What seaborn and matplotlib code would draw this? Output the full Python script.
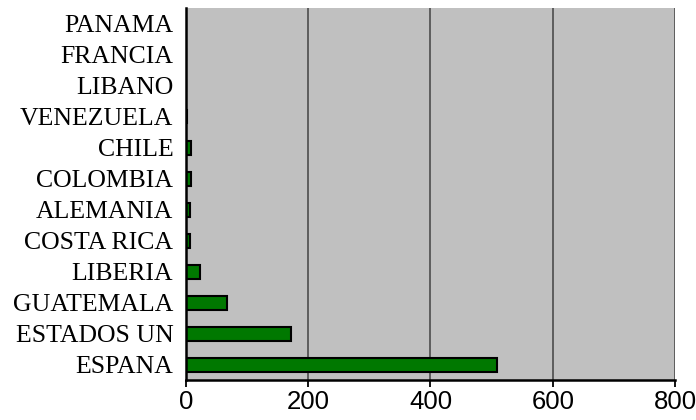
import matplotlib
matplotlib.use("Agg")
import matplotlib.pyplot as plt
import seaborn as sns
import pandas as pd

paises = ["PANAMA", "FRANCIA", "LIBANO", "VENEZUELA", "CHILE", "COLOMBIA",
          "ALEMANIA", "COSTA RICA", "LIBERIA", "GUATEMALA", "ESTADOS UN", "ESPANA"]
valores = [0, 0, 0, 2, 8, 8, 7, 7, 23, 67, 172, 508]
ticks_x = [0, 200, 400, 600, 800]

df = pd.DataFrame({"pais": paises, "valor": valores})

sns.set_theme(style="white")
plt.rcParams["text.color"] = "black"
plt.rcParams["xtick.color"] = "black"
plt.rcParams["ytick.color"] = "black"

fig = plt.figure(figsize=(6.96, 4.2), dpi=100)
ax = fig.add_axes([0.267, 0.095, 0.703, 0.886])
ax.set_facecolor("#c0c0c0")

sns.barplot(data=df, x="valor", y="pais", orient="h", color="#007800",
            width=0.45, edgecolor="black", linewidth=1.5, saturation=1, ax=ax)

ax.set_xlim(0, 800)
ax.set_xticks(ticks_x)
ax.set_xticklabels([str(t) for t in ticks_x], fontfamily="Liberation Sans",
                   fontsize=18.5, color="black")
ax.set_yticks(range(len(paises)))
ax.set_yticklabels(paises, fontfamily="Liberation Serif", fontsize=18.5, color="black")
ax.set_xlabel("")
ax.set_ylabel("")
ax.set_axisbelow(True)
ax.grid(False)
for t in ticks_x:
    ax.axvline(t, color="#555555", linewidth=1.3, zorder=0.5)

for s in ["top", "right"]:
    ax.spines[s].set_visible(False)
for s in ["left", "bottom"]:
    ax.spines[s].set_color("black")
    ax.spines[s].set_linewidth(1.8)

ax.tick_params(axis="x", direction="out", length=5, width=1.3, color="black", pad=2, bottom=True)
ax.tick_params(axis="y", length=0, pad=9)

fig.savefig("out.png", dpi=100, facecolor="white")
